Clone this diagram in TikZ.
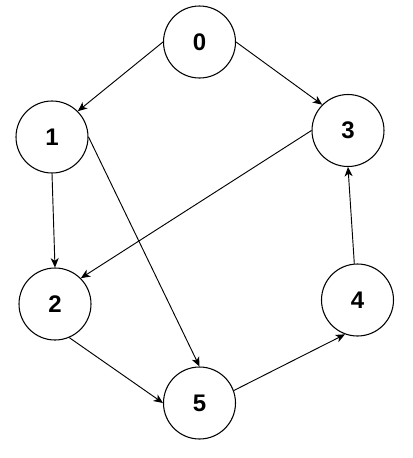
\documentclass[tikz,border=0pt]{standalone}
\usepackage{fontspec}
\setmainfont{Liberation Sans}
\usetikzlibrary{arrows.meta}

\tikzset{
  vertex/.style={circle, draw, line width=0.8pt, minimum size=54pt, inner sep=0pt,
    font=\fontsize{18}{20}\selectfont\bfseries},
  edge/.style={-{Stealth[length=7pt, width=6pt, inset=2pt]}, line width=0.7pt}
}

\begin{document}
\begin{tikzpicture}[x=0.75pt, y=-0.75pt]
  \useasboundingbox (0,0) rectangle (413,458);
  % Define nodes
  \node[vertex] (n0) at (199.5,42)  {0};
  \node[vertex] (n1) at (52,137)    {1};
  \node[vertex] (n3) at (348,130.5) {3};
  \node[vertex] (n2) at (55,304)    {2};
  \node[vertex] (n4) at (357.5,300) {4};
  \node[vertex] (n5) at (199.5,403) {5};
  % Connect nodes
  \draw[edge] (n0.west) -- (n1.north east);
  \draw[edge] (n0.east) -- (n3.north west);
  \draw[edge] (n1.south) -- (n2.north);
  \draw[edge] (n1.east) -- (n5.north);
  \draw[edge] (n3.west) -- (n2.north east);
  \draw[edge] (n4.95) -- (n3.south);
  \draw[edge] (n2.-67) -- (n5.west);
  \draw[edge] (n5.20) -- (n4.-110);
\end{tikzpicture}
\end{document}
